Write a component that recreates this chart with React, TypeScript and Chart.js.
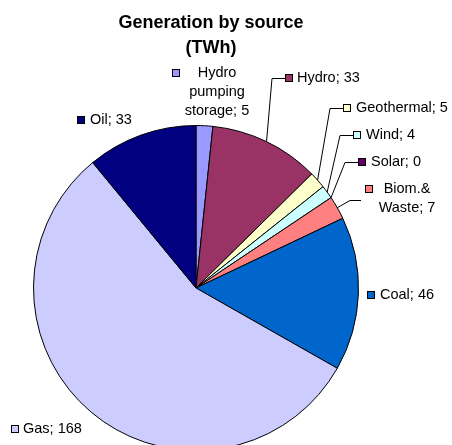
import React, { useEffect, useRef } from "react";
import { Chart, registerables } from "chart.js";

Chart.register(...registerables);

const titleLines = ["Generation by source", "(TWh)"];
const categories = [
  "Hydro pumping storage",
  "Hydro",
  "Geothermal",
  "Wind",
  "Solar",
  "Biom.& Waste",
  "Coal",
  "Gas",
  "Oil",
];
const values = [5, 33, 5, 4, 0, 7, 46, 168, 33];
const colors = [
  "#9999FF",
  "#993366",
  "#FFFFCC",
  "#CCFFFF",
  "#660066",
  "#FF8080",
  "#0066CC",
  "#CCCCFF",
  "#000080",
];

// label layout (positions of label boxes, in canvas px)
type LabelLayout = {
  kx: number;
  ky: number;
  tx: number;
  center?: number;
  wrap?: number[];
  lineH?: number;
  leader?: [number, number][];
};
const labelLayout: LabelLayout[] = [
  { kx: 172, ky: 73, tx: 0, center: 217, wrap: [1, 1, 2], lineH: 19 },
  { kx: 285, ky: 78, tx: 297, leader: [[272, 78], [285, 78]] },
  { kx: 343, ky: 108, tx: 356, leader: [[330, 108], [343, 108]] },
  { kx: 353, ky: 135, tx: 366, leader: [[340, 135], [353, 135]] },
  { kx: 358, ky: 162, tx: 371, leader: [[345, 162], [358, 162]] },
  { kx: 365, ky: 189, tx: 0, center: 407, wrap: [1, 2], lineH: 19, leader: [[350, 200], [361, 200]] },
  { kx: 367, ky: 295, tx: 380 },
  { kx: 11, ky: 429, tx: 23 },
  { kx: 77, ky: 120, tx: 90 },
];

const FONT = "'Liberation Sans', Arial, sans-serif";

function labelText(i: number): string[] {
  const full = `${categories[i]}; ${values[i]}`;
  const L = labelLayout[i];
  if (!L.wrap) return [full];
  const words = full.split(" ");
  const out: string[] = [];
  let k = 0;
  for (const n of L.wrap) {
    out.push(words.slice(k, k + n).join(" "));
    k += n;
  }
  return out;
}

const labelPlugin = {
  id: "excelLabels",
  afterDatasetsDraw(chart: any) {
    const ctx: CanvasRenderingContext2D = chart.ctx;
    const meta = chart.getDatasetMeta(0);
    ctx.save();
    ctx.fillStyle = "#000";
    ctx.font = `bold 18px ${FONT}`;
    ctx.textAlign = "center";
    ctx.textBaseline = "middle";
    titleLines.forEach((t, i) => ctx.fillText(t, 211, 23 + i * 25));

    ctx.font = `14.5px ${FONT}`;
    meta.data.forEach((arc: any, i: number) => {
      const L = labelLayout[i];
      const p = arc.getProps(["x", "y", "startAngle", "endAngle", "outerRadius"], true);
      const mid = (p.startAngle + p.endAngle) / 2;
      ctx.strokeStyle = "#000";
      ctx.lineWidth = 1;
      if (L.leader) {
        ctx.beginPath();
        ctx.moveTo(p.x + Math.cos(mid) * p.outerRadius, p.y + Math.sin(mid) * p.outerRadius);
        L.leader.forEach(([px, py]) => ctx.lineTo(px, py + 0.5));
        ctx.stroke();
      }
      // legend key
      ctx.fillStyle = colors[i];
      ctx.fillRect(L.kx, L.ky - 4, 8, 8);
      ctx.strokeRect(L.kx + 0.5, L.ky - 3.5, 7, 7);
      // text
      ctx.fillStyle = "#000";
      const lines = labelText(i);
      if (L.center !== undefined) {
        ctx.textAlign = "center";
        lines.forEach((t, j) => ctx.fillText(t, L.center as number, L.ky + j * (L.lineH || 19)));
      } else {
        ctx.textAlign = "left";
        lines.forEach((t) => ctx.fillText(t, L.tx, L.ky));
      }
    });
    ctx.restore();
  },
};

export default function App() {
  const ref = useRef<HTMLCanvasElement | null>(null);
  useEffect(() => {
    if (!ref.current) return;
    const chart = new Chart(ref.current, {
      type: "pie",
      data: {
        labels: categories,
        datasets: [
          {
            data: values,
            backgroundColor: colors,
            borderColor: "#000",
            borderWidth: 1,
          },
        ],
      },
      options: {
        animation: false,
        responsive: false,
        devicePixelRatio: 1,
        layout: { padding: { left: 33, top: 125, right: 93, bottom: 19 } },
        plugins: {
          legend: { display: false },
          title: { display: false },
          tooltip: { enabled: false },
        },
      },
      plugins: [labelPlugin],
    });
    return () => chart.destroy();
  }, []);
  return (
    <div
      style={{
        position: "fixed",
        left: 0,
        top: 0,
        width: 452,
        height: 445,
        overflow: "hidden",
        background: "#fff",
      }}
    >
      <canvas ref={ref} width={452} height={470} style={{ display: "block" }} />
    </div>
  );
}
